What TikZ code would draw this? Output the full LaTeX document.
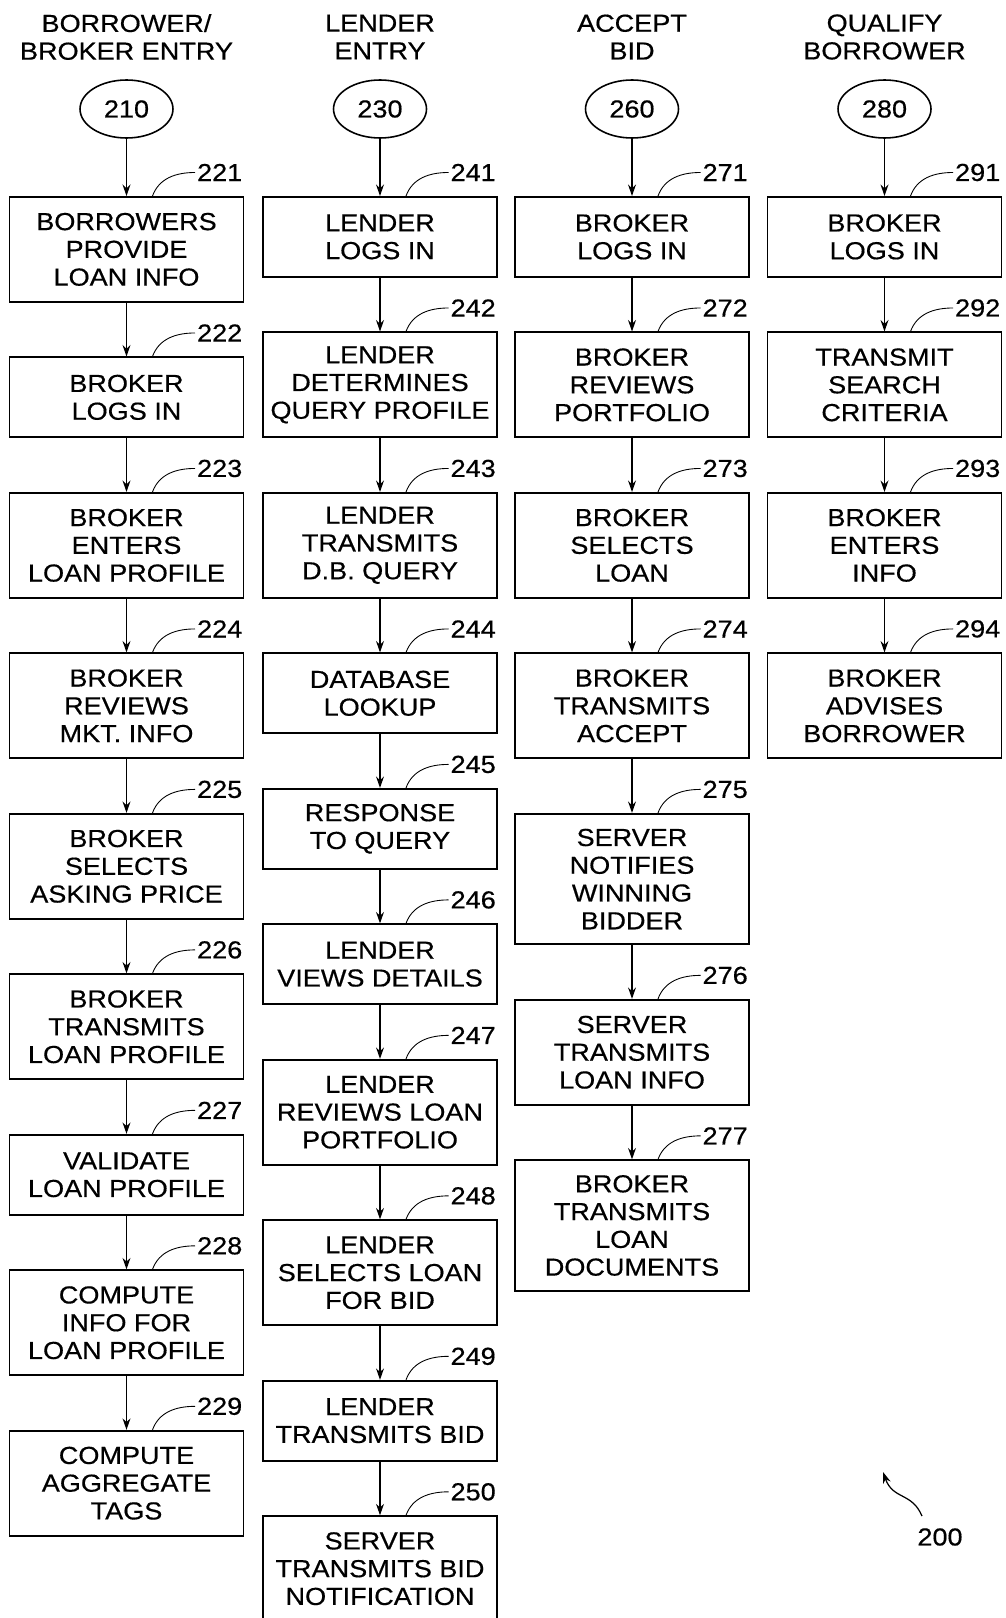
\documentclass[tikz,border=0pt]{standalone}
\usepackage{fontspec}
\setmainfont{Liberation Sans}[FakeStretch=1.1,FakeBold=0.5]
\usetikzlibrary{arrows.meta,positioning,calc,shapes.geometric}

\begin{document}
\begin{tikzpicture}[x=0.02cm,y=0.02cm,>={Stealth[length=6.5pt,width=4.5pt]},
  every node/.style={font=\fontsize{14}{15.8}\selectfont},
  node distance=1.075cm,
  stepbox/.style={draw,line width=1pt,align=center,minimum width=4.68cm,inner sep=2pt},
  twoline/.style={stepbox,minimum height=1.6cm},
  threeline/.style={stepbox,minimum height=2.1cm},
  fourline/.style={stepbox,minimum height=2.61cm},
  entry/.style={draw,ellipse,line width=0.9pt,minimum width=1.86cm,minimum height=1.16cm,inner sep=0pt},
  head/.style={align=center},
  flow/.style={->,line width=0.7pt},
  reflabel/.style={anchor=west,inner sep=1pt}]
  \useasboundingbox (0,0) rectangle (1006,-1618);

  % borrower / broker entry
  \node[head] (h1) at (126.5,-37) {BORROWER/\\BROKER ENTRY};
  \node[entry] (e210) at (126.5,-109) {210};
  \node[threeline,anchor=north] (b221) at (126.5,-196) {BORROWERS\\PROVIDE\\LOAN INFO};
  \node[twoline,below=of b221] (b222) {BROKER\\LOGS IN};
  \node[threeline,below=of b222] (b223) {BROKER\\ENTERS\\LOAN PROFILE};
  \node[threeline,below=of b223] (b224) {BROKER\\REVIEWS\\MKT. INFO};
  \node[threeline,below=of b224] (b225) {BROKER\\SELECTS\\ASKING PRICE};
  \node[threeline,below=of b225] (b226) {BROKER\\TRANSMITS\\LOAN PROFILE};
  \node[twoline,below=of b226] (b227) {VALIDATE\\LOAN PROFILE};
  \node[threeline,below=of b227] (b228) {COMPUTE\\INFO FOR\\LOAN PROFILE};
  \node[threeline,below=of b228] (b229) {COMPUTE\\AGGREGATE\\TAGS};

  % lender entry
  \node[head] (h2) at (380,-37) {LENDER\\ENTRY};
  \node[entry] (e230) at (380,-109) {230};
  \node[twoline,anchor=north] (b241) at (380,-196) {LENDER\\LOGS IN};
  \node[threeline,below=of b241] (b242) {LENDER\\DETERMINES\\QUERY PROFILE};
  \node[threeline,below=of b242] (b243) {LENDER\\TRANSMITS\\D.B. QUERY};
  \node[twoline,below=of b243] (b244) {DATABASE\\LOOKUP};
  \node[twoline,below=of b244] (b245) {RESPONSE\\TO QUERY};
  \node[twoline,below=of b245] (b246) {LENDER\\VIEWS DETAILS};
  \node[threeline,below=of b246] (b247) {LENDER\\REVIEWS LOAN\\PORTFOLIO};
  \node[threeline,below=of b247] (b248) {LENDER\\SELECTS LOAN\\FOR BID};
  \node[twoline,below=of b248] (b249) {LENDER\\TRANSMITS BID};
  \node[threeline,below=of b249] (b250) {SERVER\\TRANSMITS BID\\NOTIFICATION};

  % accept bid
  \node[head] (h3) at (632,-37) {ACCEPT\\BID};
  \node[entry] (e260) at (632,-109) {260};
  \node[twoline,anchor=north] (b271) at (632,-196) {BROKER\\LOGS IN};
  \node[threeline,below=of b271] (b272) {BROKER\\REVIEWS\\PORTFOLIO};
  \node[threeline,below=of b272] (b273) {BROKER\\SELECTS\\LOAN};
  \node[threeline,below=of b273] (b274) {BROKER\\TRANSMITS\\ACCEPT};
  \node[fourline,below=of b274] (b275) {SERVER\\NOTIFIES\\WINNING\\BIDDER};
  \node[threeline,below=of b275] (b276) {SERVER\\TRANSMITS\\LOAN INFO};
  \node[fourline,below=of b276] (b277) {BROKER\\TRANSMITS\\LOAN\\DOCUMENTS};

  % qualify borrower
  \node[head] (h4) at (884.5,-37) {QUALIFY\\BORROWER};
  \node[entry] (e280) at (884.5,-109) {280};
  \node[twoline,anchor=north] (b291) at (884.5,-196) {BROKER\\LOGS IN};
  \node[threeline,below=of b291] (b292) {TRANSMIT\\SEARCH\\CRITERIA};
  \node[threeline,below=of b292] (b293) {BROKER\\ENTERS\\INFO};
  \node[threeline,below=of b293] (b294) {BROKER\\ADVISES\\BORROWER};

  \foreach \a/\b in {e210/b221,b221/b222,b222/b223,b223/b224,b224/b225,b225/b226,b226/b227,b227/b228,b228/b229,
                     e230/b241,b241/b242,b242/b243,b243/b244,b244/b245,b245/b246,b246/b247,b247/b248,b248/b249,b249/b250,
                     e260/b271,b271/b272,b272/b273,b273/b274,b274/b275,b275/b276,b276/b277,
                     e280/b291,b291/b292,b292/b293,b293/b294}
    \draw[flow] (\a) -- (\b);

  \foreach \first/\last in {221/229,241/250,271/277,291/294}
    \foreach \n in {\first,...,\last} {
      \node[reflabel] (l\n) at ($(b\n.north)+(68.5,23.5)$) {\n};
      \draw[line width=0.5pt] ($(b\n.north)+(26,0)$) to[out=70,in=180] (l\n.west);
    }

  \node (fig) at (940,-1537) {200};
  \coordinate (figtail) at ($(fig.north)+(-18,6)$);
  \coordinate (figtip) at (883,-1472);
  \draw[flow] (figtail) .. controls (912,-1492) and (893,-1500) .. (figtip);
\end{tikzpicture}
\end{document}
